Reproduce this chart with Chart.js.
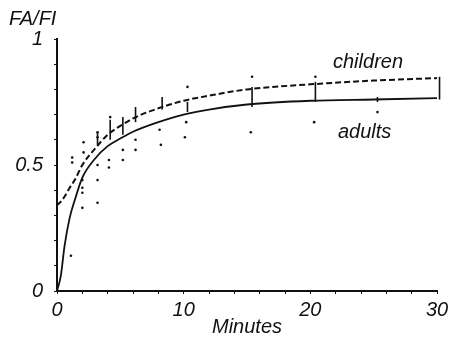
<!DOCTYPE html>
<html>
<head>
<meta charset="utf-8">
<script src="https://cdn.jsdelivr.net/npm/chart.js@4"></script>
<style>
  html, body { margin: 0; padding: 0; background: #fff; }
  #wrap { width: 449px; height: 339px; }
</style>
</head>
<body>
<div id="wrap"><canvas id="faChart" width="449" height="339"></canvas></div>
<script>
// fitted curves (minutes -> FA/FI)
const curveT = [0, 0.3, 0.6, 1, 1.4, 2, 3, 4, 5, 6, 8, 10, 12, 15, 20, 25, 30];
const children = [0.34, 0.355, 0.375, 0.41, 0.44, 0.50, 0.565, 0.62, 0.655, 0.685, 0.725, 0.755, 0.775, 0.80, 0.82, 0.835, 0.845];
const adults = [0, 0.06, 0.18, 0.29, 0.36, 0.45, 0.525, 0.575, 0.605, 0.632, 0.67, 0.70, 0.72, 0.74, 0.755, 0.76, 0.765];

// individual measurements
const dotT = [1.2, 1.2, 1.1,
  2.1, 2.1, 2.0, 2.0, 2.0, 2.0,
  3.2, 3.2, 3.2, 3.2, 3.2,
  4.2, 4.1, 4.1,
  5.2, 5.2,
  6.2, 6.2,
  8.1, 8.2,
  10.3, 10.2, 10.1,
  15.4, 15.3,
  20.4, 20.3,
  25.3,
  30.2, 30.2];
const dotV = [0.53, 0.51, 0.14,
  0.59, 0.55, 0.44, 0.41, 0.39, 0.33,
  0.63, 0.61, 0.50, 0.44, 0.35,
  0.69, 0.52, 0.49,
  0.56, 0.52,
  0.60, 0.56,
  0.64, 0.58,
  0.81, 0.67, 0.61,
  0.85, 0.63,
  0.85, 0.67,
  0.71,
  0.90, 0.71];

// error bars
const errT = [3.2, 4.2, 5.2, 6.2, 8.3, 10.3, 15.4, 20.4, 25.3, 30.2];
const errLo = [0.58, 0.60, 0.62, 0.67, 0.72, 0.71, 0.73, 0.75, 0.75, 0.76];
const errHi = [0.63, 0.68, 0.69, 0.73, 0.77, 0.75, 0.81, 0.83, 0.77, 0.85];

const xTickLabels = [0, 10, 20, 30];
const yTickLabels = [0, 0.5, 1];

const FONT = "'Liberation Sans', Arial, sans-serif";
const INK = '#111';

const errorBars = {
  id: 'errorBars',
  afterDatasetsDraw(chart) {
    const c = chart.ctx, xs = chart.scales.x, ys = chart.scales.y;
    c.save();
    c.strokeStyle = INK;
    c.lineWidth = 1.6;
    errT.forEach((t, i) => {
      const px = xs.getPixelForValue(t);
      c.beginPath();
      c.moveTo(px, ys.getPixelForValue(errLo[i]));
      c.lineTo(px, ys.getPixelForValue(errHi[i]));
      c.stroke();
    });
    c.restore();
  }
};

const labels = {
  id: 'labels',
  afterDraw(chart) {
    const c = chart.ctx;
    c.save();
    c.fillStyle = INK;
    c.font = 'italic 20px ' + FONT;
    c.textBaseline = 'alphabetic';
    c.fillText('FA/FI', 9, 25);
    c.fillText('children', 333, 68);
    c.fillText('adults', 338, 138);
    c.restore();
  }
};

const isTick = (v, list) => list.some(t => Math.abs(t - v) < 1e-6);

new Chart(document.getElementById('faChart'), {
  type: 'scatter',
  data: {
    datasets: [
      {
        type: 'line',
        label: 'children',
        data: curveT.map((t, i) => ({ x: t, y: children[i] })),
        borderColor: INK,
        borderWidth: 2,
        borderDash: [6, 3],
        pointRadius: 0,
        cubicInterpolationMode: 'monotone',
        fill: false
      },
      {
        type: 'line',
        label: 'adults',
        data: curveT.map((t, i) => ({ x: t, y: adults[i] })),
        borderColor: INK,
        borderWidth: 1.8,
        pointRadius: 0,
        cubicInterpolationMode: 'monotone',
        fill: false
      },
      {
        label: 'points',
        data: dotT.map((t, i) => ({ x: t, y: dotV[i] })),
        backgroundColor: INK,
        borderWidth: 0,
        pointRadius: 1.3
      }
    ]
  },
  options: {
    responsive: false,
    animation: false,
    layout: { padding: { top: 39, right: 0, left: 0, bottom: 0 } },
    plugins: { legend: { display: false }, tooltip: { enabled: false } },
    scales: {
      x: {
        type: 'linear',
        min: 0, max: 30,
        afterFit(scale) {
          scale.height = 48;
          scale.paddingLeft = 0;
          scale.paddingRight = 12;
        },
        border: { display: true, color: INK, width: 2 },
        grid: { drawOnChartArea: false, drawTicks: true, tickLength: 3, color: INK },
        ticks: {
          stepSize: 2,
          autoSkip: false,
          maxRotation: 0,
          padding: 4,
          color: INK,
          font: { family: FONT, size: 20, style: 'italic' },
          callback: v => isTick(v, xTickLabels) ? String(v) : ''
        },
        title: {
          display: true,
          text: 'Minutes',
          color: INK,
          padding: { top: -4, bottom: 0 },
          font: { family: FONT, size: 20, style: 'italic' }
        }
      },
      y: {
        min: 0, max: 1,
        afterFit(scale) { scale.width = 57; },
        border: { display: true, color: INK, width: 2 },
        grid: { drawOnChartArea: false, drawTicks: true, tickLength: 3, color: INK },
        ticks: {
          stepSize: 0.1,
          autoSkip: false,
          padding: 11,
          color: INK,
          font: { family: FONT, size: 20, style: 'italic' },
          callback: v => isTick(v, yTickLabels) ? String(Math.round(v * 10) / 10) : ''
        }
      }
    }
  },
  plugins: [errorBars, labels]
});
</script>
</body>
</html>
